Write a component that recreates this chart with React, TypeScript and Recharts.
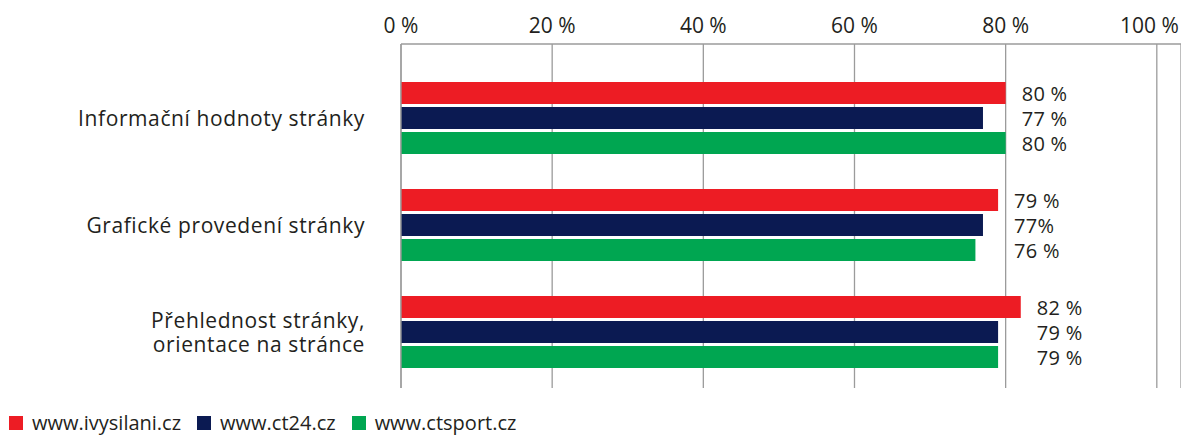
import { Bar, BarChart, CartesianGrid, LabelList, Legend, XAxis, YAxis } from "recharts";

const categories = [
  "Informační hodnoty stránky",
  "Grafické provedení stránky",
  "Přehlednost stránky,\norientace na stránce",
];
const ivysilani = [80, 79, 82];
const ct24 = [77, 77, 79];
const ctsport = [80, 76, 79];
const ivysilaniLabels = ["80 %", "79 %", "82 %"];
const ct24Labels = ["77 %", "77%", "79 %"];
const ctsportLabels = ["80 %", "76 %", "79 %"];
const xTicks = [0, 20, 40, 60, 80, 100];

const series = [
  { key: "ivysilani", name: "www.ivysilani.cz", color: "#ED1C24", labels: ivysilaniLabels },
  { key: "ct24", name: "www.ct24.cz", color: "#0B1A52", labels: ct24Labels },
  { key: "ctsport", name: "www.ctsport.cz", color: "#00A651", labels: ctsportLabels },
];

const data = categories.map((name, i) => ({
  name,
  ivysilani: ivysilani[i],
  ct24: ct24[i],
  ctsport: ctsport[i],
}));

const FONT = "'Open Sans', sans-serif";
const TEXT = "#231F20";

function XTick({ x, y, payload }: any) {
  const last = payload.value === 100;
  return (
    <text
      x={last ? x + 22 : x}
      y={y}
      dy={-3}
      textAnchor={last ? "end" : "middle"}
      fill={TEXT}
      fontSize={21}
      fontFamily={FONT}
    >
      {payload.value} %
    </text>
  );
}

function YTick({ x, y, payload }: any) {
  const lines = String(payload.value).split("\n");
  const lh = 24;
  return (
    <text
      x={x - 28}
      y={y}
      textAnchor="end"
      fill={TEXT}
      fontSize={21}
      letterSpacing={0.6}
      fontFamily={FONT}
    >
      {lines.map((l, k) => (
        <tspan key={k} x={x - 28} y={y + (k - (lines.length - 1) / 2) * lh} dominantBaseline="central">
          {l}
        </tspan>
      ))}
    </text>
  );
}

const makeValueLabel = (labels: string[]) => (props: any) => {
  const { x, y, width, height, value, index } = props;
  const max = Math.max(ivysilani[index], ct24[index], ctsport[index]);
  const end = x + (width * max) / value;
  return (
    <text
      x={end + 16}
      y={y + height / 2}
      dominantBaseline="central"
      fill={TEXT}
      fontSize={20}
      letterSpacing={0.3}
      fontFamily={FONT}
    >
      {labels[index]}
    </text>
  );
};

function LegendBox() {
  return (
    <div style={{ display: "flex", paddingLeft: 9, paddingTop: 10, paddingBottom: 1, height: 22, alignItems: "center" }}>
      {series.map((s) => (
        <div key={s.key} style={{ display: "flex", alignItems: "center", marginRight: 16 }}>
          <span style={{ width: 14, height: 14, background: s.color, marginRight: 9 }} />
          <span style={{ fontFamily: FONT, fontSize: 20, color: TEXT, lineHeight: "22px" }}>{s.name}</span>
        </div>
      ))}
    </div>
  );
}

export default function App() {
  return (
    <div style={{ position: "absolute", left: 0, top: 0, width: 1181, height: 435, background: "#fff" }}>
      <BarChart
        width={1181}
        height={435}
        data={data}
        layout="vertical"
        margin={{ top: 0, right: 0, left: 0, bottom: 14 }}
        barSize={22}
        barGap={3}
      >
        <CartesianGrid horizontal={false} stroke="#9B9B9B" strokeWidth={1.3} />
        <XAxis
          type="number"
          orientation="top"
          domain={[0, 103.2]}
          ticks={xTicks}
          height={44}
          tickLine={false}
          axisLine={{ stroke: "#9B9B9B", strokeWidth: 1.3 }}
          tick={<XTick />}
        />
        <YAxis
          type="category"
          dataKey="name"
          width={401}
          padding={{ top: 20, bottom: 3 }}
          tickLine={false}
          axisLine={{ stroke: "#9B9B9B", strokeWidth: 1.3 }}
          tick={<YTick />}
        />
        <Legend verticalAlign="bottom" wrapperStyle={{ bottom: 0, left: 0 }} content={<LegendBox />} />
        {series.map((s) => (
          <Bar key={s.key} dataKey={s.key} name={s.name} fill={s.color} isAnimationActive={false}>
            <LabelList dataKey={s.key} content={makeValueLabel(s.labels)} />
          </Bar>
        ))}
      </BarChart>
    </div>
  );
}
